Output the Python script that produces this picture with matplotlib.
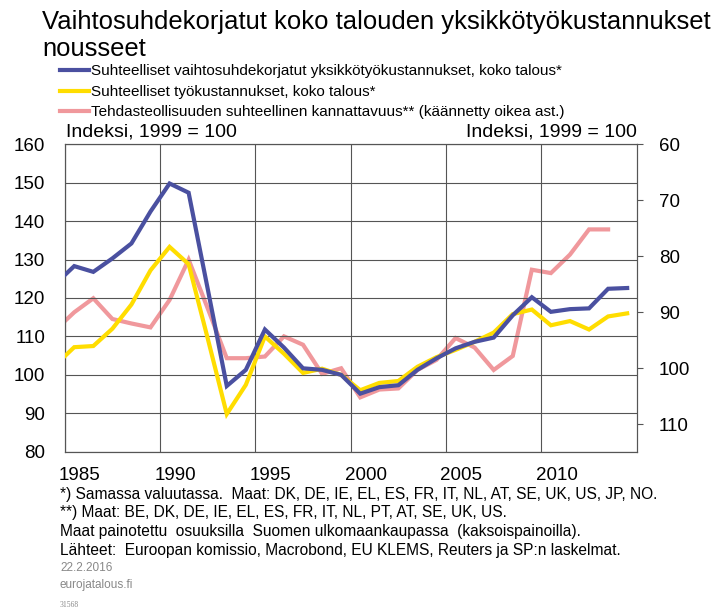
import matplotlib
matplotlib.use("Agg")
import matplotlib.pyplot as plt
from matplotlib import font_manager
import numpy as np

# ---------------- data ----------------
years = list(range(1984, 2015))
ulc_tot_adj = [123.6, 128.3, 126.8, 130.3, 134.2, 142.5, 149.8, 147.4, 122.4, 97.1,
               101.3, 111.8, 107.1, 101.7, 101.3, 100.0, 95.1, 96.8, 97.3, 101.3,
               104.3, 106.9, 108.6, 109.7, 115.5, 120.2, 116.4, 117.1, 117.3, 122.4, 122.6]
ulc_rel = [102.5, 107.2, 107.5, 112.0, 118.3, 127.2, 133.3, 128.8, 109.5, 89.8,
           97.4, 110.0, 105.5, 100.5, 101.6, 100.0, 96.0, 97.9, 98.4, 102.1,
           104.6, 106.5, 108.6, 111.0, 115.8, 117.0, 112.9, 114.0, 111.8, 115.2, 116.0]
years_profit = list(range(1984, 2014))
profitability = [93.2, 90.0, 87.5, 91.2, 92.0, 92.7, 87.8, 80.6, 89.3, 98.2,
                 98.2, 97.9, 94.3, 95.8, 101.0, 100.0, 105.2, 103.8, 103.6, 100.3,
                 98.5, 94.6, 96.3, 100.3, 97.8, 82.4, 83.0, 79.7, 75.2, 75.2]

labels = ["Suhteelliset vaihtosuhdekorjatut yksikkötyökustannukset, koko talous*",
          "Suhteelliset työkustannukset, koko talous*",
          "Tehdasteollisuuden suhteellinen kannattavuus** (käännetty oikea ast.)"]
x_ticks = [1985, 1990, 1995, 2000, 2005, 2010]
left_ticks = [80, 90, 100, 110, 120, 130, 140, 150, 160]
right_ticks = [60, 70, 80, 90, 100, 110]

title_lines = ["Vaihtosuhdekorjatut koko talouden yksikkötyökustannukset", "nousseet"]
notes = ["*) Samassa valuutassa.  Maat: DK, DE, IE, EL, ES, FR, IT, NL, AT, SE, UK, US, JP, NO.",
         "**) Maat: BE, DK, DE, IE, EL, ES, FR, IT, NL, PT, AT, SE, UK, US.",
         "Maat painotettu  osuuksilla  Suomen ulkomaankaupassa  (kaksoispainoilla).",
         "Lähteet:  Euroopan komissio, Macrobond, EU KLEMS, Reuters ja SP:n laskelmat."]

# ---------------- fonts ----------------
def has_font(name):
    try:
        font_manager.findfont(name, fallback_to_default=False)
        return True
    except Exception:
        return False

BASE = "Liberation Sans" if has_font("Liberation Sans") else "DejaVu Sans"
plt.rcParams["font.family"] = [BASE, "DejaVu Sans"]

BLUE = "#4a50a0"
YELLOW = "#ffdd00"
PINK = "#f0989c"
GRID = "#555555"

fig = plt.figure(figsize=(7.19, 6.11), dpi=100)
L, R, T, B = 64.7, 636.7, 144.3, 451.7
W, H = 719, 611
ax = fig.add_axes([L / W, 1 - B / H, (R - L) / W, (B - T) / H])
ax2 = ax.twinx()

xs = np.array(years) + 0.5
xp = np.array(years_profit) + 0.5
l1, = ax.plot(xs, ulc_tot_adj, color=BLUE, lw=3.0, solid_joinstyle="miter", zorder=4)
l2, = ax.plot(xs, ulc_rel, color=YELLOW, lw=3.0, solid_joinstyle="miter", zorder=3)
l3, = ax2.plot(xp, profitability, color=PINK, lw=3.0, solid_joinstyle="miter", zorder=2)
ax.set_zorder(ax2.get_zorder() + 1)
ax.patch.set_visible(False)

ax.set_xlim(1985, 2015)
ax.set_ylim(80, 160)
ax2.set_ylim(114.9, 60)

TS = 13.5
ax.set_yticks(left_ticks)
ax.set_xticks(x_ticks)
ax.set_xticklabels([])
ax.set_xticks([x + 0.8 for x in x_ticks], minor=True)
ax.set_xticklabels([str(x) for x in x_ticks], minor=True)
ax.tick_params(axis="x", which="both", length=0, pad=11, labelsize=TS)
ax.tick_params(axis="y", length=0, pad=14, labelsize=TS)
ax2.set_yticks(right_ticks)
ax2.tick_params(axis="y", length=4, width=0.8, color=GRID, pad=12, labelsize=TS)

ax.grid(True, which="major", color=GRID, lw=0.8)
for a in (ax, ax2):
    for s in a.spines.values():
        s.set_color(GRID)
        s.set_linewidth(0.8)

# axis unit labels
fig.text(66 / W, 1 - 132 / H, "Indeksi, 1999 = 100", fontsize=14, va="center", ha="left")
fig.text(R / W, 1 - 132 / H, "Indeksi, 1999 = 100", fontsize=14, va="center", ha="right")

# title, fitted to the reference width (42 -> 712 px)
t1 = fig.text(42 / W, 1 - 29 / H, title_lines[0], fontsize=20, va="baseline", ha="left")
renderer = fig.canvas.get_renderer()
w = t1.get_window_extent(renderer=renderer).width
fs = 20 * 668.0 / w
t1.set_fontsize(fs)
fig.text(42 / W, 1 - 56 / H, title_lines[1], fontsize=fs, va="baseline", ha="left")

# legend
fig.legend([l1, l2, l3], labels, loc="upper left", bbox_to_anchor=(60 / W, 1 - 64.5 / H),
           frameon=False, fontsize=11, handlelength=1.9, handletextpad=0.15,
           labelspacing=0.42, borderpad=0, borderaxespad=0)

# notes
for i, n in enumerate(notes):
    fig.text(60 / W, 1 - (494 + i * 18.8) / H, n, fontsize=11.2, va="center", ha="left")
fig.text(60 / W, 1 - 568 / H, "22.2.2016", fontsize=8.5, color="#888888", va="center")
fig.text(60 / W, 1 - 585 / H, "eurojatalous.fi", fontsize=8.5, color="#888888", va="center")
fig.text(60 / W, 1 - 605 / H, "31568", fontsize=5.5, color="#888888", va="center",
         family=["Liberation Serif", "DejaVu Serif"])

fig.savefig("out.png", dpi=100)
